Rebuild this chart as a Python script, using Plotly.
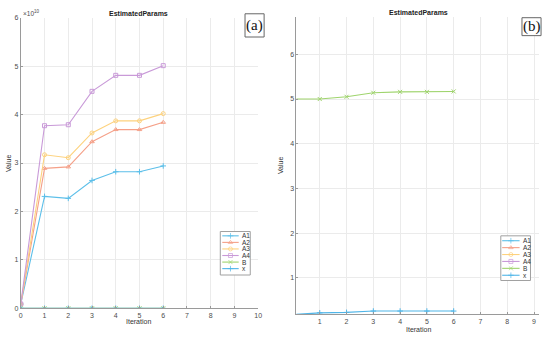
import plotly.graph_objects as go

# ---------------- data ----------------
iterations = [0, 1, 2, 3, 4, 5, 6]
A1 = [0.09e10, 2.31e10, 2.27e10, 2.64e10, 2.82e10, 2.82e10, 2.94e10]
A2 = [0.09e10, 2.89e10, 2.92e10, 3.44e10, 3.69e10, 3.69e10, 3.84e10]
A3 = [0.09e10, 3.17e10, 3.11e10, 3.62e10, 3.87e10, 3.87e10, 4.02e10]
A4 = [0.09e10, 3.77e10, 3.79e10, 4.48e10, 4.81e10, 4.81e10, 5.01e10]
B = [5.00, 5.00, 5.05, 5.14, 5.16, 5.16, 5.17]
X = [0.18, 0.22, 0.23, 0.26, 0.26, 0.26, 0.26]

series_names = ["A1", "A2", "A3", "A4", "B", "x"]
series_values = [A1, A2, A3, A4, B, X]
series_colors = ["#5cbfe9", "#f5a088", "#fdd27e", "#c99ad8", "#9fd46d", "#4fb5e8"]
series_symbols = ["cross-thin-open", "triangle-up-open", "circle-open",
                  "square-open", "x-thin-open", "cross-thin-open"]

left_xticks = list(range(0, 11))
left_yticks = [0, 1e10, 2e10, 3e10, 4e10, 5e10, 6e10]
left_yticklabels = ["0", "1", "2", "3", "4", "5", "6"]
right_xticks = list(range(1, 10))
right_yticks = [1, 2, 3, 4, 5, 6]

W, H = 550, 340
FONT = "Liberation Sans, Arial, sans-serif"
TXT = "#4d4d4d"
GRID = "#ebebeb"
AX = "#9a9a9a"
MS = 4

fig = go.Figure()

def px_x(p):
    return p / W

def px_y(p):
    return 1 - p / H

# data traces on both panels
for name, vals, col, sym in zip(series_names, series_values, series_colors, series_symbols):
    for xa, ya in (("x", "y"), ("x2", "y2")):
        fig.add_trace(go.Scatter(
            x=iterations, y=vals, name=name, mode="lines+markers",
            line=dict(color=col, width=1.1),
            marker=dict(symbol=sym, size=MS, color=col, line=dict(color=col, width=1)),
            xaxis=xa, yaxis=ya, showlegend=False, cliponaxis=True,
        ))

common_axis = dict(showgrid=True, gridcolor=GRID, gridwidth=1, zeroline=False,
                   showline=True, linecolor=AX, linewidth=1,
                   ticks="inside", ticklen=2, tickcolor=AX,
                   tickfont=dict(family=FONT, size=7, color=TXT))

fig.update_layout(
    width=W, height=H, margin=dict(l=0, r=0, t=0, b=0),
    paper_bgcolor="white", plot_bgcolor="rgba(0,0,0,0)",
    showlegend=False,
    xaxis=dict(domain=[px_x(19), px_x(259)], range=[0, 10], tickvals=left_xticks,
               anchor="y", **common_axis),
    yaxis=dict(domain=[px_y(310.7), px_y(14)], range=[0, 6e10], tickvals=left_yticks,
               ticktext=left_yticklabels, anchor="x", **common_axis),
    xaxis2=dict(domain=[px_x(297.7), px_x(543.3)], range=[0.13, 9.2], tickvals=right_xticks,
                anchor="y2", **common_axis),
    yaxis2=dict(domain=[px_y(316.7), px_y(13)], range=[0.19, 6.84], tickvals=right_yticks,
                anchor="x2", **common_axis),
    xaxis3=dict(domain=[0, 1], range=[0, W], visible=False, fixedrange=True, anchor="y3"),
    yaxis3=dict(domain=[0, 1], range=[H, 0], visible=False, fixedrange=True, anchor="x3"),
)

# legends (drawn in pixel space)
def draw_legend(box, row0, dy, line_x0, line_x1, text_x):
    x0, y0, x1, y1 = box
    fig.add_shape(type="rect", xref="x3", yref="y3", x0=x0, y0=y0, x1=x1, y1=y1,
                  line=dict(color="#a0a0a0", width=1), fillcolor="white", layer="below")
    for i, (name, col, sym) in enumerate(zip(series_names, series_colors, series_symbols)):
        yy = row0 + i * dy
        mid = (line_x0 + line_x1) / 2
        fig.add_trace(go.Scatter(
            x=[line_x0, mid, line_x1], y=[yy, yy, yy], mode="lines+markers",
            line=dict(color=col, width=1.1),
            marker=dict(symbol=sym, size=[0, MS, 0], color=col, line=dict(color=col, width=1)),
            xaxis="x3", yaxis="y3", showlegend=False, hoverinfo="skip"))
        fig.add_annotation(xref="x3", yref="y3", x=text_x, y=yy, text=name,
                           showarrow=False, xanchor="left", yanchor="middle",
                           font=dict(family=FONT, size=6.5, color="#333"))

draw_legend((220.7, 232.3, 251, 276.7), 236.7, 6.7, 222.7, 239.3, 240.5)
draw_legend((504.3, 236.7, 534.3, 282.3), 241.7, 7.05, 505.7, 523.3, 524.8)

# panel tags
for (bx0, by0, bx1, by1), tag in (((245.7, 10, 265, 33.7), "(a)"), ((525.7, 14, 545, 32.3), "(b)")):
    fig.add_shape(type="rect", xref="x3", yref="y3", x0=bx0, y0=by0, x1=bx1, y1=by1,
                  line=dict(color="#666", width=1), fillcolor="white", layer="below")
    fig.add_annotation(xref="x3", yref="y3", x=(bx0 + bx1) / 2, y=(by0 + by1) / 2, text=tag,
                       showarrow=False, xanchor="center", yanchor="middle",
                       font=dict(family="Liberation Serif, Times New Roman, serif", size=15, color="#111"))

# titles and axis labels
for cx, ty in ((138.3, 9.7), (420.7, 8.7)):
    fig.add_annotation(xref="x3", yref="y3", x=cx, y=ty, text="<b>EstimatedParams</b>",
                       showarrow=False, xanchor="center", yanchor="middle",
                       font=dict(family=FONT, size=7, color="#222"))
for cx, ty in ((138.3, 324.3), (420.7, 332.3)):
    fig.add_annotation(xref="x3", yref="y3", x=cx, y=ty, text="Iteration",
                       showarrow=False, xanchor="center", yanchor="middle",
                       font=dict(family=FONT, size=7, color="#333"))
for cx, ty in ((6.5, 163), (281.5, 165)):
    fig.add_annotation(xref="x3", yref="y3", x=cx, y=ty, text="Value", textangle=-90,
                       showarrow=False, xanchor="center", yanchor="middle",
                       font=dict(family=FONT, size=7, color="#333"))

# exponent label
fig.add_annotation(xref="x3", yref="y3", x=19, y=9, text="×10<sup>10</sup>",
                   showarrow=False, xanchor="left", yanchor="middle",
                   font=dict(family=FONT, size=6.5, color=TXT))

fig.write_html("out.html", config={"displayModeBar": False},
               post_script="document.body.style.margin='0px';")
